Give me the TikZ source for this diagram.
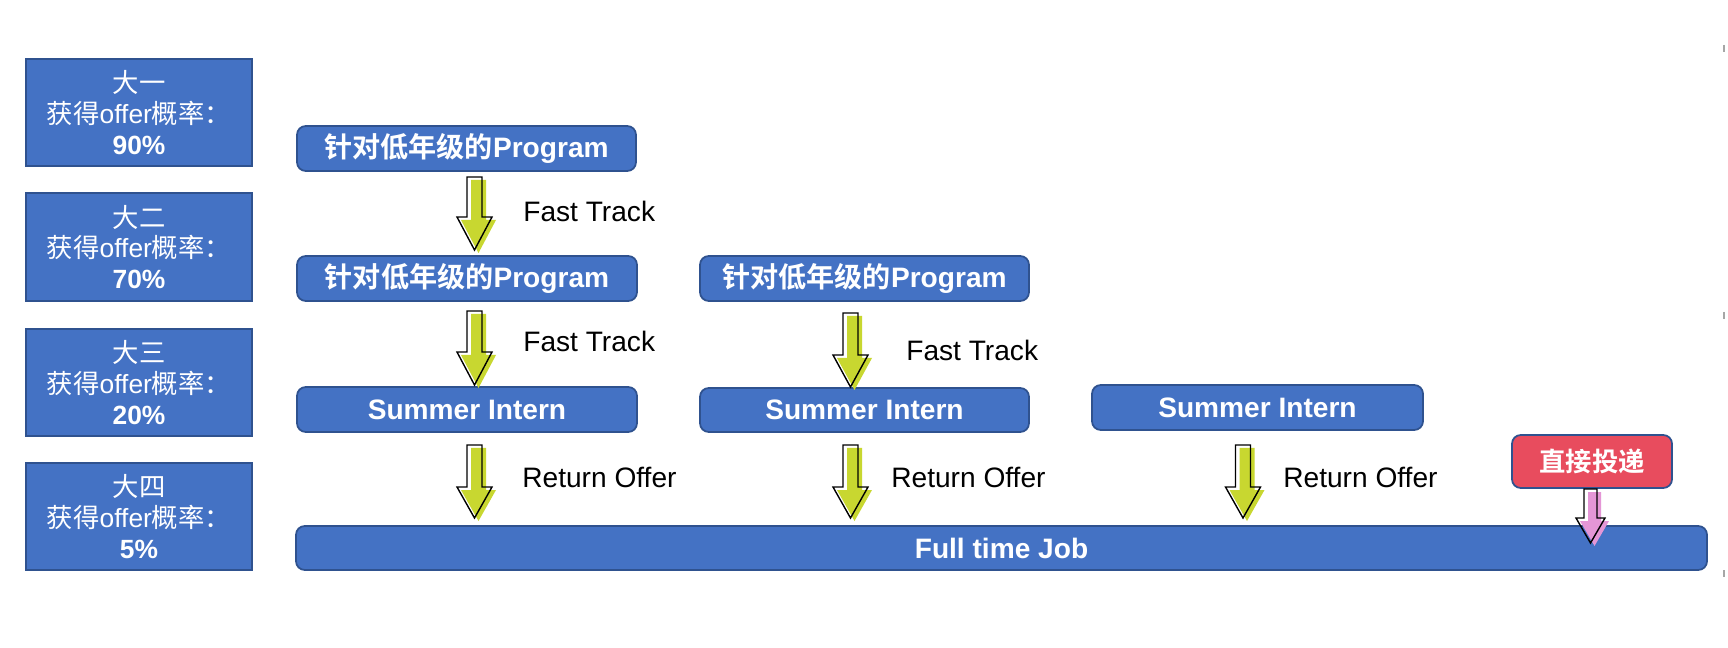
\documentclass[tikz,border=0pt]{standalone}
\usepackage{fontspec}
\setmainfont{Liberation Sans}
\newfontfamily\cjk{Noto Sans CJK SC}[BoldFont={Noto Sans CJK SC Bold}]
\definecolor{boxblue}{HTML}{4472C4}
\definecolor{edgeblue}{HTML}{2F528F}
\definecolor{arrowgreen}{RGB}{200,215,48}
\definecolor{arrowpink}{RGB}{228,150,214}
\definecolor{tagred}{RGB}{232,76,94}
% block arrow: cx, top, headstart, tip, half shaft, half head, colour
\newcommand\bkarrow[7]{%
  \fill[#7, shift={(4,3)}] (#1-#5,#2) -- (#1+#5,#2) -- (#1+#5,#3) -- (#1+#6,#3) -- (#1,#4) -- (#1-#6,#3) -- (#1-#5,#3) -- cycle;
  \draw[black, line width=0.8pt, line join=miter] (#1-#5,#2) -- (#1+#5,#2) -- (#1+#5,#3) -- (#1+#6,#3) -- (#1,#4) -- (#1-#6,#3) -- (#1-#5,#3) -- cycle;
}
% box node spanning pixel corners: style, name, x1, y1, x2, y2, text
\newcommand\pxbox[7]{%
  \node[#1, minimum width={(#5-#3)*0.02cm}, minimum height={(#6-#4)*0.02cm}] (#2) at ({(#3+#5)/2},{(#4+#6)/2}) {#7};
}
\begin{document}
\begin{tikzpicture}[x=0.02cm,y=-0.02cm,
  yearbox/.style={draw=edgeblue, fill=boxblue, line width=1pt, inner sep=0pt, text=white, align=center, font=\fontsize{15}{17.6}\selectfont},
  stagebox/.style={draw=edgeblue, fill=boxblue, line width=1pt, rounded corners=5pt, inner sep=0pt, text=white, font=\fontsize{16}{19}\selectfont\bfseries},
  tagbox/.style={stagebox, fill=tagred, font=\fontsize{15}{18}\selectfont\bfseries},
  steplabel/.style={anchor=base west, inner sep=0pt, font=\fontsize{16}{19}\selectfont},
]
\useasboundingbox[fill=white] (0,0) rectangle (1728,648);

% year boxes
\pxbox{yearbox}{y1}{26}{59}{252}{166}{{\cjk 大一}\\{\cjk 获得}offer{\cjk 概率：}\\\textbf{90\%}}
\pxbox{yearbox}{y2}{26}{193}{252}{301}{{\cjk 大二}\\{\cjk 获得}offer{\cjk 概率：}\\\textbf{70\%}}
\pxbox{yearbox}{y3}{26}{329}{252}{436}{{\cjk 大三}\\{\cjk 获得}offer{\cjk 概率：}\\\textbf{20\%}}
\pxbox{yearbox}{y4}{26}{463}{252}{570}{{\cjk 大四}\\{\cjk 获得}offer{\cjk 概率：}\\\textbf{5\%}}

% stage boxes
\pxbox{stagebox}{p1}{297}{126}{636}{171}{{\cjk\bfseries 针对低年级的}Program}
\pxbox{stagebox}{p2}{297}{256}{637}{301}{{\cjk\bfseries 针对低年级的}Program}
\pxbox{stagebox}{p3}{700}{256}{1029}{301}{{\cjk\bfseries 针对低年级的}Program}
\pxbox{stagebox}{s1}{297}{387}{637}{432}{Summer Intern}
\pxbox{stagebox}{s2}{700}{388}{1029}{432}{Summer Intern}
\pxbox{stagebox}{s3}{1092}{385}{1423}{430}{Summer Intern}
\pxbox{stagebox}{job}{296}{526}{1707}{570}{Full time Job}
\pxbox{tagbox}{tag}{1512}{435}{1672}{488}{{\cjk\bfseries 直接投递}}

% block arrows
\bkarrow{474.5}{177}{217}{250}{7.5}{17.5}{arrowgreen}
\bkarrow{474.5}{311}{352}{385}{7.5}{17.5}{arrowgreen}
\bkarrow{850.5}{313}{355}{387}{7.5}{17.5}{arrowgreen}
\bkarrow{474.5}{445}{487}{518}{7.5}{17.5}{arrowgreen}
\bkarrow{850.5}{445}{487}{518}{7.5}{17.5}{arrowgreen}
\bkarrow{1243}{445}{487}{518}{7.5}{17.5}{arrowgreen}
\bkarrow{1590.5}{489}{518}{543}{6.5}{14.5}{arrowpink}

% labels
\node[steplabel] (ft1) at (523,222) {Fast Track};
\node[steplabel] (ft2) at (523,352) {Fast Track};
\node[steplabel] (ft3) at (906,361) {Fast Track};
\node[steplabel] (ro1) at (522,487) {Return Offer};
\node[steplabel] (ro2) at (891,487) {Return Offer};
\node[steplabel] (ro3) at (1283,487) {Return Offer};

% slide edge marks
\draw[gray!70, line width=1pt] (1724,45) -- (1724,52);
\draw[gray!70, line width=1pt] (1724,312) -- (1724,319);
\draw[gray!70, line width=1pt] (1724,570) -- (1724,577);
\end{tikzpicture}
\end{document}
